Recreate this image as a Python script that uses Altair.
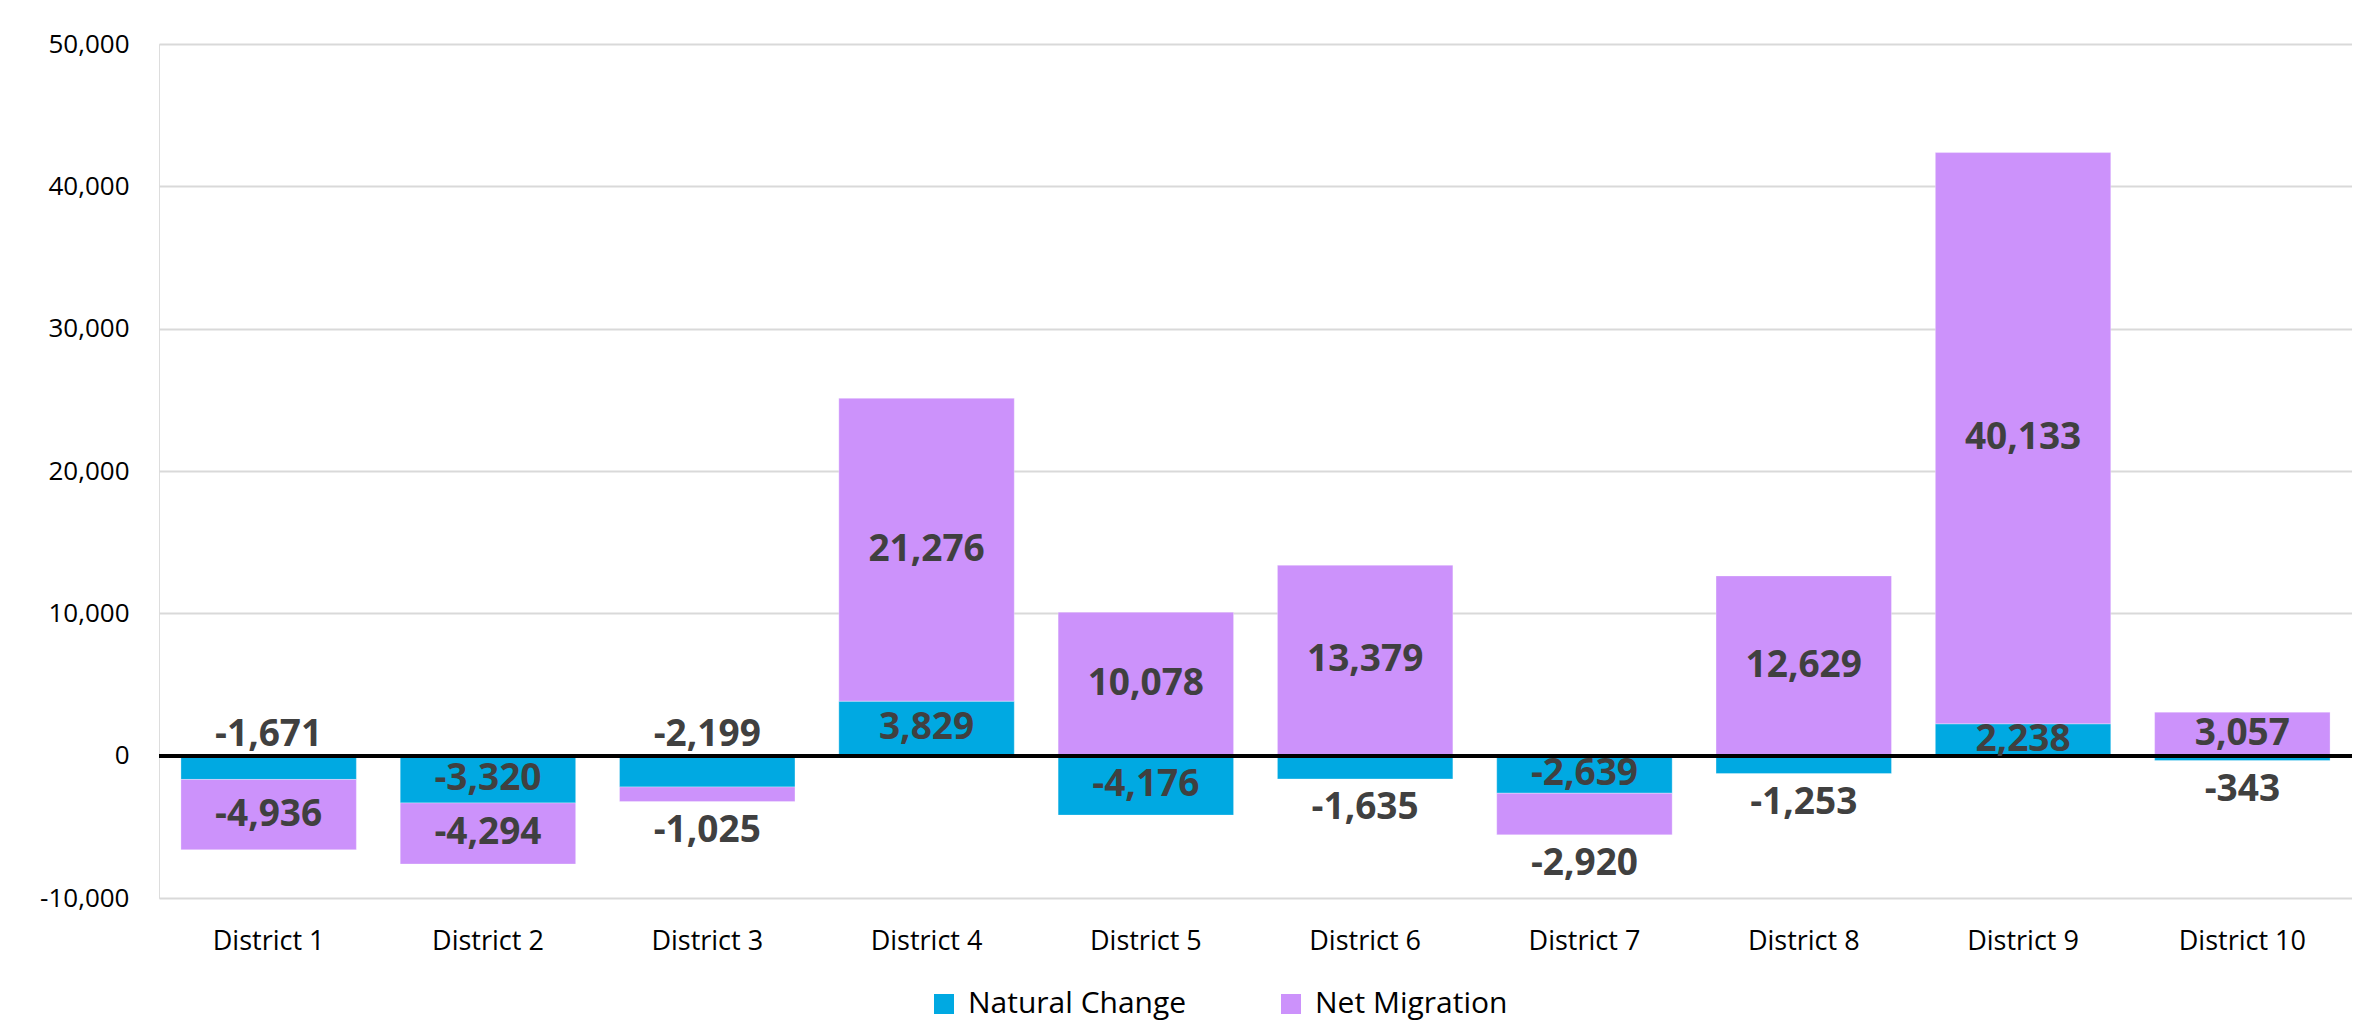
import altair as alt
import pandas as pd

districts = [f"District {i}" for i in range(1, 11)]
natural_change = [-1671, -3320, -2199, 3829, -4176, -1635, -2639, -1253, 2238, -343]
net_migration = [-4936, -4294, -1025, 21276, 10078, 13379, -2920, 12629, 40133, 3057]
series = ["Natural Change", "Net Migration"]
colors = ["#00A9E2", "#CC92FB"]

rows = []
for d, nc, nm in zip(districts, natural_change, net_migration):
    pos, neg = 0, 0
    for s, v, order in ((series[0], nc, 0), (series[1], nm, 1)):
        if v >= 0:
            y0, y1 = pos, pos + v
            pos = y1
        else:
            y0, y1 = neg, neg + v
            neg = y1
        # small negative segments get their label outside the bar
        if v < 0 and order == 0 and abs(v) < 2300:
            place = "above" if nm < 0 else "below"
        elif v < 0 and order == 1 and abs(v) < 3000:
            place = "below"
        else:
            place = "inside"
        rows.append(dict(district=d, series=s, value=v, order=order,
                         y0=y0, y1=y1, mid=(y0 + y1) / 2,
                         label=f"{v:,}", place=place))
df = pd.DataFrame(rows)

FONT = "Open Sans"
x_enc = alt.X("district:N", sort=districts,
              scale=alt.Scale(paddingInner=0.2, paddingOuter=0.1),
              axis=alt.Axis(title=None, labelAngle=0, labelFontSize=27, labelColor="#000000",
                            labelFont=FONT, ticks=False, domain=False, labelPadding=30))

bars = alt.Chart(df).mark_bar(stroke="#FFFFFF", strokeWidth=0.6, strokeOpacity=0.5).encode(
    x=x_enc,
    y=alt.Y("y0:Q", scale=alt.Scale(domain=[-10000, 50000], nice=False),
            axis=alt.Axis(title=None, values=list(range(-10000, 50001, 10000)),
                          labelExpr="datum.value < 0 ? '-' + format(-datum.value, ',') : format(datum.value, ',')",
                          labelFontSize=26, labelColor="#000000", labelFont=FONT,
                          ticks=False, domain=False, labelPadding=30,
                          gridColor="#D9D9D9", gridWidth=2)),
    y2="y1:Q",
    color=alt.Color("series:N", sort=series,
                    scale=alt.Scale(domain=series, range=colors),
                    legend=alt.Legend(title=None, orient="none", direction="horizontal",
                                      legendX=770, legendY=945,
                                      symbolType="square", symbolSize=400,
                                      symbolStrokeWidth=0, labelFontSize=30, labelFont=FONT,
                                      labelColor="#000000", labelLimit=0,
                                      columnPadding=89, labelOffset=9)),
    order=alt.Order("order:Q"),
)

zero = alt.Chart(df).mark_rule(color="#000000", strokeWidth=3).encode(y=alt.datum(0))

text_style = dict(font=FONT, fontSize=37, fontWeight="bold", color="#404040")

inside = alt.Chart(df).transform_filter("datum.place == 'inside'").mark_text(
    baseline="middle", **text_style).encode(
    x=alt.X("district:N", sort=districts), y=alt.Y("mid:Q"), text="label:N")

below = alt.Chart(df).transform_filter("datum.place == 'below'").mark_text(
    baseline="alphabetic", dy=40, **text_style).encode(
    x=alt.X("district:N", sort=districts), y=alt.Y("y1:Q"), text="label:N")

above = alt.Chart(df).transform_filter("datum.place == 'above'").mark_text(
    baseline="alphabetic", dy=-10, **text_style).encode(
    x=alt.X("district:N", sort=districts), y=alt.Y("y0:Q"), text="label:N")

chart = alt.layer(bars, zero, inside, below, above).properties(
    width=2193, height=854,
    autosize=alt.AutoSizeParams(type="none"),
    padding={"left": 151, "top": 36, "right": 0, "bottom": 124},
).configure_view(stroke=None).configure(background="#FFFFFF")

chart.save("out.html", embed_options={"renderer": "svg", "actions": False})
